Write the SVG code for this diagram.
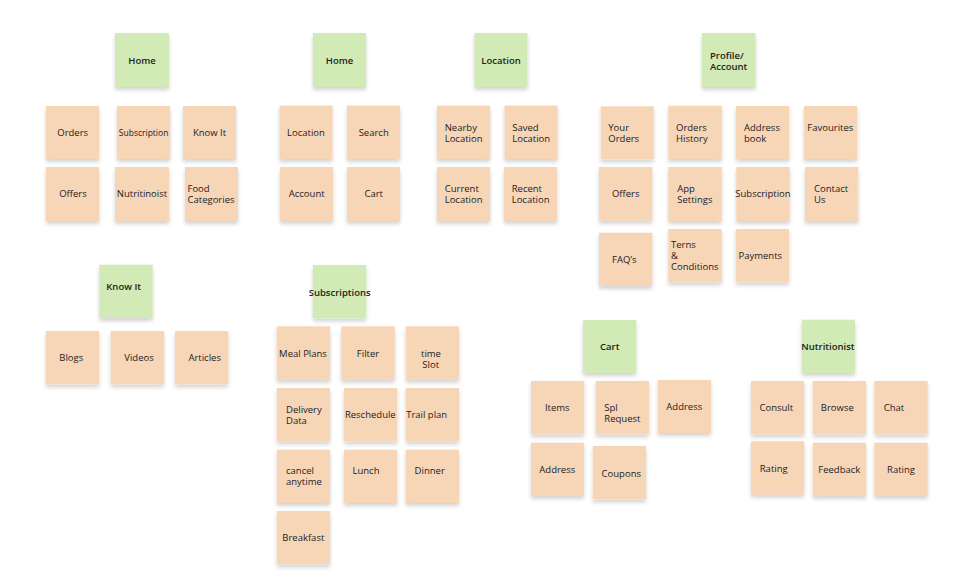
<svg xmlns="http://www.w3.org/2000/svg" width="980" height="580" viewBox="0 0 980 580">
<defs>
<filter id="sh" x="-20%" y="-20%" width="140%" height="150%">
<feGaussianBlur in="SourceAlpha" stdDeviation="2"/>
<feOffset dy="3" result="b"/>
<feComponentTransfer><feFuncA type="linear" slope="0.18"/></feComponentTransfer>
<feMerge><feMergeNode/><feMergeNode in="SourceGraphic"/></feMerge>
</filter>
<style>
.g{fill:#d1eab6;filter:url(#sh)}
.p{fill:#f7d6b8;filter:url(#sh)}
text{font-family:"Open Sans","Noto Sans","DejaVu Sans",sans-serif;font-size:9.5px;font-weight:500;fill:#1c1c1c}
.c{text-anchor:middle}
.b{font-weight:600}
</style>
</defs>
<rect width="980" height="580" fill="#ffffff"/>
<g id="connectors"/>

<!-- Group 1: Home -->
<g id="home1"><rect class="g" x="115" y="33" width="54" height="54"/><text class="c b" x="142" y="63.5">Home</text></g>
<g id="h1-orders"><rect class="p" x="46" y="106" width="53" height="53"/><text class="c" x="72.7" y="135.8">Orders</text></g>
<g id="h1-subscription"><rect class="p" x="117" y="106" width="53" height="53"/><text class="c" x="143.6" y="135.5" style="font-size:8.5px">Subscription</text></g>
<g id="h1-knowit"><rect class="p" x="183" y="106" width="53" height="53"/><text class="c" x="209.5" y="135.8">Know It</text></g>
<g id="h1-offers"><rect class="p" x="46" y="167" width="53" height="54"/><text class="c" x="73" y="197.2">Offers</text></g>
<g id="h1-nutritinoist"><rect class="p" x="115" y="167" width="54" height="54"/><text class="c" x="142" y="197.2">Nutritinoist</text></g>
<g id="h1-food"><rect class="p" x="185" y="167" width="53" height="54"/><text x="187.5" y="191.7">Food<tspan x="187.5" dy="11">Categories</tspan></text></g>

<!-- Group 2: Home -->
<g id="home2"><rect class="g" x="313" y="33" width="53" height="54"/><text class="c b" x="339.5" y="63.5">Home</text></g>
<g id="h2-location"><rect class="p" x="279.5" y="105.5" width="53" height="53.5"/><text class="c" x="306" y="135.8">Location</text></g>
<g id="h2-search"><rect class="p" x="347" y="105.5" width="53" height="53.5"/><text class="c" x="373.7" y="135.8">Search</text></g>
<g id="h2-account"><rect class="p" x="280" y="167" width="53" height="54"/><text class="c" x="306.7" y="197.2">Account</text></g>
<g id="h2-cart"><rect class="p" x="347" y="167" width="53" height="54"/><text class="c" x="373.7" y="197.2">Cart</text></g>

<!-- Group 3: Location -->
<g id="location"><rect class="g" x="474.5" y="33" width="53" height="54"/><text class="c b" x="501" y="63.5">Location</text></g>
<g id="loc-nearby"><rect class="p" x="437" y="105.5" width="53" height="53.5"/><text x="444.7" y="130.8">Nearby<tspan x="444.7" dy="11">Location</tspan></text></g>
<g id="loc-saved"><rect class="p" x="504.5" y="105.5" width="53" height="53.5"/><text x="512.3" y="130.8">Saved<tspan x="512.3" dy="11">Location</tspan></text></g>
<g id="loc-current"><rect class="p" x="437" y="167" width="53" height="54"/><text x="444.7" y="192.2">Current<tspan x="444.7" dy="11">Location</tspan></text></g>
<g id="loc-recent"><rect class="p" x="504" y="167" width="53" height="54"/><text x="511.7" y="192.2">Recent<tspan x="511.7" dy="11">Location</tspan></text></g>

<!-- Group 4: Profile/Account -->
<g id="profile"><rect class="g" x="702" y="33" width="53.5" height="54"/><text class="b" x="710" y="58.5">Profile/<tspan x="710" dy="11">Account</tspan></text></g>
<g id="pr-yourorders"><rect class="p" x="600.7" y="106.3" width="53" height="53"/><text x="608.3" y="131.2">Your<tspan x="608.3" dy="11">Orders</tspan></text></g>
<g id="pr-ordershistory"><rect class="p" x="668.3" y="105.7" width="53.4" height="53.3"/><text x="676" y="130.5">Orders<tspan x="676" dy="11">History</tspan></text></g>
<g id="pr-addressbook"><rect class="p" x="736" y="106" width="53.3" height="53"/><text x="744" y="130.5">Address<tspan x="744" dy="11">book</tspan></text></g>
<g id="pr-favourites"><rect class="p" x="804" y="106" width="53.3" height="53"/><text class="c" x="830.3" y="130.5">Favourites</text></g>
<g id="pr-offers"><rect class="p" x="599" y="167" width="53.3" height="53.7"/><text class="c" x="625.7" y="197.2">Offers</text></g>
<g id="pr-appsettings"><rect class="p" x="668.3" y="167" width="53.4" height="54"/><text x="677.3" y="192.2">App<tspan x="677.3" dy="11">Settings</tspan></text></g>
<g id="pr-subscription"><rect class="p" x="736.3" y="167" width="53.4" height="54"/><text class="c" x="763" y="197.2">Subscription</text></g>
<g id="pr-contactus"><rect class="p" x="805" y="167" width="53.3" height="54"/><text x="814" y="192.2">Contact<tspan x="814" dy="11">Us</tspan></text></g>
<g id="pr-faqs"><rect class="p" x="599" y="232.7" width="53.3" height="53.3"/><text class="c" x="624.3" y="263.2">FAQ’s</text></g>
<g id="pr-terms"><rect class="p" x="668.3" y="229" width="53.4" height="53.3"/><text x="671" y="247.8">Terns<tspan x="671" dy="11.3">&amp;</tspan><tspan x="671" dy="11">Conditions</tspan></text></g>
<g id="pr-payments"><rect class="p" x="735.7" y="229" width="53.3" height="53.3"/><text class="c" x="760.3" y="259.2">Payments</text></g>

<!-- Group 5: Know It -->
<g id="knowit"><rect class="g" x="99.3" y="264.7" width="53.4" height="53.3"/><text class="c b" x="123.7" y="290.2">Know It</text></g>
<g id="ki-blogs"><rect class="p" x="46" y="331" width="53.3" height="53.3"/><text class="c" x="71.3" y="361.2">Blogs</text></g>
<g id="ki-videos"><rect class="p" x="110.7" y="331" width="53.3" height="53.3"/><text class="c" x="139" y="361.2">Videos</text></g>
<g id="ki-articles"><rect class="p" x="175" y="331" width="53.3" height="53.3"/><text class="c" x="204.7" y="361.2">Articles</text></g>

<!-- Group 6: Subscriptions -->
<g id="subscriptions"><rect class="g" x="313" y="265" width="53.3" height="53.3"/><text class="c b" x="339.7" y="295.5">Subscriptions</text></g>
<g id="su-mealplans"><rect class="p" x="276.7" y="326.3" width="53.3" height="53.4"/><text class="c" x="303" y="356.5">Meal Plans</text></g>
<g id="su-filter"><rect class="p" x="341.3" y="326.3" width="53.4" height="53.4"/><text class="c" x="368" y="356.5">Filter</text></g>
<g id="su-timeslot"><rect class="p" x="405.7" y="326.3" width="53.3" height="53.4"/><text class="c" x="431" y="356.5">time<tspan x="430.7" dy="11">Slot</tspan></text></g>
<g id="su-delivery"><rect class="p" x="276.7" y="388" width="53.3" height="53.3"/><text x="286" y="413.2">Delivery<tspan x="286" dy="10.8">Data</tspan></text></g>
<g id="su-reschedule"><rect class="p" x="344" y="388" width="53.3" height="53.3"/><text class="c" x="370.3" y="418.2">Reschedule</text></g>
<g id="su-trailplan"><rect class="p" x="405.7" y="388" width="53.3" height="53.3"/><text class="c" x="426.7" y="418.2">Trail plan</text></g>
<g id="su-cancel"><rect class="p" x="276.7" y="449.7" width="53.3" height="53.3"/><text x="286" y="474.2">cancel<tspan x="286" dy="11">anytime</tspan></text></g>
<g id="su-lunch"><rect class="p" x="344" y="449.7" width="53.3" height="53.3"/><text class="c" x="366" y="474.2">Lunch</text></g>
<g id="su-dinner"><rect class="p" x="405.7" y="449.7" width="53.3" height="53.3"/><text class="c" x="429.7" y="474.2">Dinner</text></g>
<g id="su-breakfast"><rect class="p" x="276.7" y="511" width="53.3" height="53.3"/><text class="c" x="303.3" y="541.2">Breakfast</text></g>

<!-- Group 7: Cart -->
<g id="cart"><rect class="g" x="583" y="320" width="53.3" height="53"/><text class="c b" x="609.7" y="349.8">Cart</text></g>
<g id="ca-items"><rect class="p" x="531" y="381" width="53.3" height="53.3"/><text class="c" x="557.3" y="411.2">Items</text></g>
<g id="ca-splrequest"><rect class="p" x="595.7" y="381" width="53.3" height="53.3"/><text x="604.3" y="410.8">Spl<tspan x="604.3" dy="11.4">Request</tspan></text></g>
<g id="ca-address1"><rect class="p" x="657.7" y="380" width="53.3" height="53"/><text class="c" x="684.3" y="409.8">Address</text></g>
<g id="ca-address2"><rect class="p" x="531" y="442.7" width="53" height="53.3"/><text class="c" x="557.3" y="472.8">Address</text></g>
<g id="ca-coupons"><rect class="p" x="592.7" y="446" width="53.3" height="53.3"/><text class="c" x="621.3" y="476.5">Coupons</text></g>

<!-- Group 8: Nutritionist -->
<g id="nutritionist"><rect class="g" x="801.7" y="319.7" width="53.3" height="53.3"/><text class="c b" x="828" y="349.8">Nutritionist</text></g>
<g id="nu-consult"><rect class="p" x="751" y="381" width="53.3" height="53.3"/><text class="c" x="776.3" y="411.2">Consult</text></g>
<g id="nu-browse"><rect class="p" x="812.7" y="381" width="53.3" height="53.3"/><text class="c" x="837.3" y="411.2">Browse</text></g>
<g id="nu-chat"><rect class="p" x="874.3" y="381" width="53.4" height="53.3"/><text class="c" x="894" y="411.2">Chat</text></g>
<g id="nu-rating1"><rect class="p" x="751" y="441.3" width="53.3" height="53.4"/><text class="c" x="773.7" y="471.8">Rating</text></g>
<g id="nu-feedback"><rect class="p" x="812.7" y="442.7" width="53.3" height="53.3"/><text class="c" x="839.3" y="472.8">Feedback</text></g>
<g id="nu-rating2"><rect class="p" x="874.3" y="442.7" width="53.4" height="53.3"/><text class="c" x="901" y="472.8">Rating</text></g>
</svg>
